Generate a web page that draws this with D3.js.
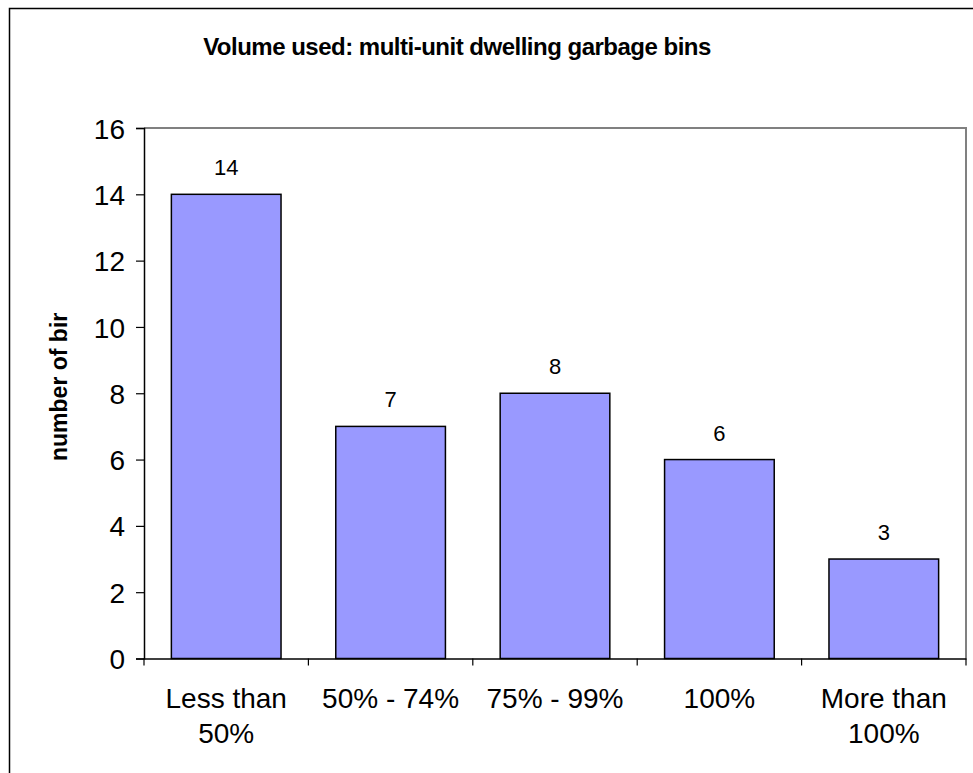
<!DOCTYPE html>
<html>
<head>
<meta charset="utf-8">
<script src="https://cdn.jsdelivr.net/npm/d3@7"></script>
<style>
  html, body { margin: 0; padding: 0; background: #fff; }
  svg { display: block; }
  text { font-family: "Liberation Sans", Arial, sans-serif; fill: #000; }
</style>
</head>
<body>
<svg id="chart" width="973" height="773"></svg>
<script>
const categories = [["Less than", "50%"], ["50% - 74%"], ["75% - 99%"], ["100%"], ["More than", "100%"]];
const values = [14, 7, 8, 6, 3];
const yTicks = [0, 2, 4, 6, 8, 10, 12, 14, 16];
const title = "Volume used: multi-unit dwelling garbage bins";
const yLabel = "number of bins";

const svg = d3.select("#chart");
const W = 973, H = 773;
const plot = { left: 144, right: 966, top: 128, bottom: 658.5 };
const FONT = '"Liberation Sans", Arial, sans-serif';

// outer chart border (cropped on right and bottom)
svg.append("path")
  .attr("d", `M9.5,${H + 2} L9.5,8.5 L${W + 2},8.5`)
  .attr("fill", "none").attr("stroke", "#000").attr("stroke-width", 1.5);

const idx = categories.map((d, i) => i);
const x = d3.scaleBand().domain(idx).range([plot.left, plot.right]).paddingInner(0.333).paddingOuter(0.1665);
const xCat = d3.scaleBand().domain(idx).range([plot.left, plot.right]);
const y = d3.scaleLinear().domain([0, 16]).range([plot.bottom, plot.top]);

// plot area border (top and right, gray)
svg.append("path")
  .attr("d", `M${plot.left},${plot.top} L${plot.right},${plot.top} L${plot.right},${plot.bottom}`)
  .attr("fill", "none").attr("stroke", "#808080").attr("stroke-width", 2);

// bars
svg.append("g").selectAll("rect").data(values).join("rect")
  .attr("x", (d, i) => x(i))
  .attr("y", d => y(d))
  .attr("width", x.bandwidth())
  .attr("height", d => y(0) - y(d))
  .attr("fill", "#9999FF")
  .attr("stroke", "#000").attr("stroke-width", 1.5);

// data labels
svg.append("g").selectAll("text").data(values).join("text")
  .attr("x", (d, i) => x(i) + x.bandwidth() / 2)
  .attr("y", d => y(d) - 19)
  .attr("text-anchor", "middle")
  .style("font-size", "22px")
  .text(d => d);

// y axis
const yAxis = d3.axisLeft(y).tickValues(yTicks).tickSize(8).tickPadding(11);
const gy = svg.append("g").attr("transform", `translate(${plot.left},0)`).call(yAxis);
gy.attr("font-size", null).attr("font-family", null);
gy.select(".domain").attr("stroke", "#000").attr("stroke-width", 1.5);
gy.selectAll(".tick line").attr("stroke", "#000").attr("stroke-width", 1.2);
gy.selectAll(".tick text").style("font-size", "28px").style("font-family", FONT).attr("dy", "0.36em");

// x axis
const xAxis = d3.axisBottom(xCat).tickSize(0).tickFormat("");
const gx = svg.append("g").attr("transform", `translate(0,${plot.bottom})`).call(xAxis);
gx.select(".domain").attr("stroke", "#000").attr("stroke-width", 1.5);
gx.selectAll(".tick").remove();
// category boundary ticks
const bounds = d3.range(categories.length + 1).map(i => plot.left + i * xCat.step());
gx.selectAll("line.b").data(bounds).join("line")
  .attr("class", "b")
  .attr("x1", d => d).attr("x2", d => d)
  .attr("y1", 0).attr("y2", 7)
  .attr("stroke", "#000").attr("stroke-width", 1.2);

// category labels
const catG = svg.append("g");
categories.forEach((lines, i) => {
  const t = catG.append("text")
    .attr("x", xCat(i) + xCat.bandwidth() / 2)
    .attr("y", 708)
    .attr("text-anchor", "middle")
    .style("font-size", "28px");
  lines.forEach((ln, j) => {
    t.append("tspan")
      .attr("x", xCat(i) + xCat.bandwidth() / 2)
      .attr("y", 708 + j * 35)
      .text(ln);
  });
});

// title
svg.append("text")
  .attr("x", 457).attr("y", 55)
  .attr("text-anchor", "middle")
  .style("font-size", "24px").style("font-weight", "bold")
  .style("letter-spacing", "-0.5px")
  .text(title);

// y axis label (clipped as in the reference)
svg.append("clipPath").attr("id", "ylabClip")
  .append("rect").attr("x", 20).attr("y", 313).attr("width", 80).attr("height", 200);
svg.append("g").attr("clip-path", "url(#ylabClip)")
  .append("text")
  .attr("transform", "translate(67,461) rotate(-90)")
  .attr("text-anchor", "start")
  .style("font-size", "23px").style("font-weight", "bold")
  .text(yLabel);
</script>
</body>
</html>
